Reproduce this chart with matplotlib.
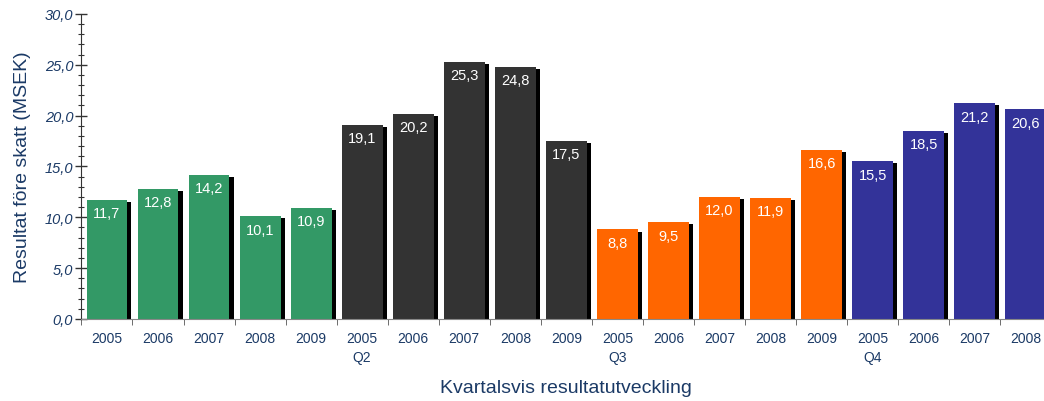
import numpy as np
from matplotlib import pyplot as plt
from matplotlib.ticker import MultipleLocator, FuncFormatter

plt.rcParams['font.family'] = ['Liberation Sans', 'DejaVu Sans']

years = ['2005', '2006', '2007', '2008', '2009',
         '2005', '2006', '2007', '2008', '2009',
         '2005', '2006', '2007', '2008', '2009',
         '2005', '2006', '2007', '2008']
quarters = ['', '', '', '', '',
            'Q2', '', '', '', '',
            'Q3', '', '', '', '',
            'Q4', '', '', '']
values = [11.7, 12.8, 14.2, 10.1, 10.9,
          19.1, 20.2, 25.3, 24.8, 17.5,
          8.8, 9.5, 12.0, 11.9, 16.6,
          15.5, 18.5, 21.2, 20.6]
group_sizes = [5, 5, 5, 4]
group_colors = ['#339966', '#333333', '#FF6600', '#333399']

txt = '#1B3A66'
colors = []
for n, c in zip(group_sizes, group_colors):
    colors += [c] * n

x = np.arange(len(values))

fig = plt.figure(figsize=(10.44, 4.02), dpi=100)
ax = fig.add_axes([0.078, 0.204, 0.929, 0.759])

# shadow, then the bar itself
ax.bar(x + 0.08, np.array(values) - 0.2, width=0.8, color='black', zorder=1)
ax.bar(x, values, width=0.8, color=colors, zorder=2)

for xi, v in zip(x, values):
    ax.annotate(('%.1f' % v).replace('.', ','), (xi, v), xytext=(0, -4.5),
                textcoords='offset points', ha='center', va='top',
                color='white', fontsize=10.5, zorder=3)

ax.set_xlim(-0.5, len(values) - 0.5)
ax.set_ylim(0, 30)
ax.yaxis.set_major_locator(MultipleLocator(5))
ax.yaxis.set_minor_locator(MultipleLocator(1))
ax.yaxis.set_major_formatter(FuncFormatter(lambda v, p: ('%.1f' % v).replace('.', ',')))
ax.tick_params(axis='y', which='major', direction='inout', length=8, width=1,
               colors='#333333', labelcolor=txt, labelsize=10.5, pad=2)
ax.tick_params(axis='y', which='minor', direction='inout', length=4, width=0.8,
               colors='#333333')
for lab in ax.get_yticklabels():
    lab.set_fontstyle('italic')

ax.set_xticks(x)
ax.set_xticklabels([y if q == '' else y + '\n' + q for y, q in zip(years, quarters)],
                   color=txt, fontsize=10)
ax.set_xticks(np.arange(len(values) + 1) - 0.5, minor=True)
ax.tick_params(axis='x', which='major', length=0, pad=9)
ax.tick_params(axis='x', which='minor', direction='out', length=4, color='#555555')
for lab in ax.get_xticklabels():
    lab.set_linespacing(1.4)

for s in ['top', 'right']:
    ax.spines[s].set_visible(False)
ax.spines['left'].set_color('#333333')
ax.spines['bottom'].set_color('#888888')

ax.set_ylabel('Resultat före skatt (MSEK)', color=txt, fontsize=14, labelpad=10)
ax.set_xlabel('Kvartalsvis resultatutveckling', color=txt, fontsize=14, labelpad=11)

plt.savefig('out.png', dpi=100)
